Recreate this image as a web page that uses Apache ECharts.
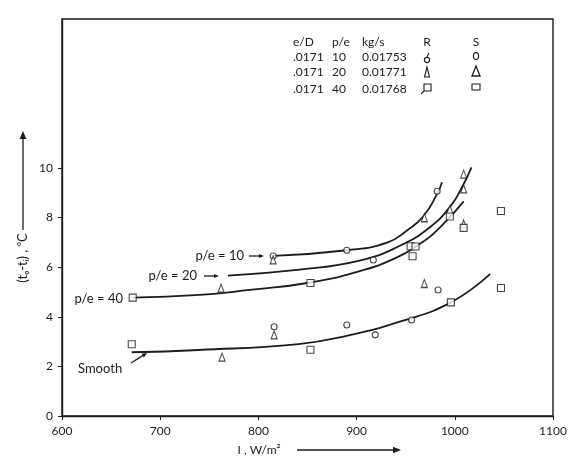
<!DOCTYPE html>
<html>
<head>
<meta charset="utf-8">
<title>t0-ti vs I</title>
<script src="https://cdn.jsdelivr.net/npm/echarts@6/dist/echarts.min.js"></script>
<style>
html, body { margin: 0; padding: 0; background: #fff; }
#chart { width: 574px; height: 458px; }
</style>
</head>
<body>
<div id="chart"></div>
<script>
// tick labels
var xTicks = [600, 700, 800, 900, 1000, 1100];
var yTicks = [0, 2, 4, 6, 8, 10];

// fitted curves [I, to-ti]
var curve10 = [[815, 6.45], [890, 6.68], [931, 6.99], [952, 7.5], [968, 8.05], [982, 8.95], [987, 9.42]];
var curve20 = [[769, 5.66], [842, 5.9], [903, 6.26], [944, 6.86], [975, 7.62], [996, 8.48], [1008, 9.27], [1017, 10.02]];
var curve40 = [[672, 4.77], [740, 4.88], [791, 5.08], [853, 5.38], [903, 5.84], [939, 6.35], [965, 6.95], [985, 7.6], [1009, 8.65]];
var curveSmooth = [[671, 2.57], [739, 2.66], [841, 2.9], [892, 3.25], [943, 3.79], [996, 4.58], [1036, 5.73]];

// measured points, rough duct (R)
var roughCircles = [[815, 6.45], [890, 6.68], [917, 6.29], [982, 9.06]];
var roughTriangles = [[762, 5.15], [815, 6.29], [969, 7.99], [995, 8.32], [1009, 9.75], [1009, 9.15], [1009, 7.74]];
var roughSquares = [[672, 4.77], [853, 5.36], [955, 6.84], [960, 6.83], [957, 6.44], [995, 8.04], [1009, 7.58], [1047, 8.26]];

// measured points, smooth duct (S)
var smoothCircles = [[816, 3.6], [890, 3.67], [919, 3.27], [956, 3.87], [983, 5.08]];
var smoothTriangles = [[763, 2.37], [816, 3.27], [969, 5.34]];
var smoothSquares = [[671, 2.89], [853, 2.67], [996, 4.58], [1047, 5.16]];

// table at top
var tableHead = ['e/D', 'p/e', 'kg/s', 'R', 'S'];
var tableED = ['.0171', '.0171', '.0171'];
var tablePE = ['10', '20', '40'];
var tableFlow = ['0.01753', '0.01771', '0.01768'];

var FONT = 'Lato, "Open Sans", sans-serif';
var INK = '#1c1c1c';

function lineSeries(data) {
    return {
        type: 'line', data: data, smooth: 0.5,
        showSymbol: false, silent: true,
        lineStyle: { color: INK, width: 1.8 }
    };
}

function pointSeries(data, symbol, size) {
    return {
        type: 'scatter', data: data, symbol: symbol, symbolSize: size, z: 5,
        itemStyle: { color: '#fff', borderColor: INK, borderWidth: 1.1 }
    };
}

function txt(s, x, y, size, align) {
    return {
        type: 'text', x: x, y: y, z: 10,
        style: { text: s, fill: INK, font: size + 'px ' + FONT, textAlign: align || 'left', textVerticalAlign: 'middle' }
    };
}

// line with a filled head at (x2, y2)
function arrow(x1, y1, x2, y2, h) {
    var a = Math.atan2(y2 - y1, x2 - x1);
    var bx = x2 - h * Math.cos(a), by = y2 - h * Math.sin(a);
    var w = h * 0.42;
    return [
        { type: 'line', z: 10, shape: { x1: x1, y1: y1, x2: bx, y2: by }, style: { stroke: INK, lineWidth: 1.3 } },
        { type: 'polygon', z: 10, shape: { points: [[x2, y2], [bx - w * Math.sin(a), by + w * Math.cos(a)], [bx + w * Math.sin(a), by - w * Math.cos(a)]] }, style: { fill: INK } }
    ];
}

var graphics = [];

// axis titles
graphics.push({
    type: 'text', x: 23, y: 258, rotation: Math.PI / 2, z: 10,
    style: { text: '(tₒ-tᵢ) , ⁰C', fill: INK, font: '13px ' + FONT, textAlign: 'center', textVerticalAlign: 'middle' }
});
graphics = graphics.concat(arrow(23, 230, 23, 131, 8));
graphics.push(txt('I , W/m²', 259, 450, 12, 'center'));
graphics = graphics.concat(arrow(297, 450, 401, 450, 8));

// curve labels
graphics.push(txt('p/e = 10', 244, 256, 13, 'right'));
graphics = graphics.concat(arrow(249, 256, 264, 256, 5));
graphics.push(txt('p/e = 20', 197, 276, 13, 'right'));
graphics = graphics.concat(arrow(204, 276, 219, 276, 5));
graphics.push(txt('p/e = 40', 123, 299, 13, 'right'));
graphics.push(txt('Smooth', 78, 369, 13, 'left'));
graphics = graphics.concat(arrow(131, 363, 147, 353, 5));

// table
var colX = [293, 332, 362];
var rowY = [57, 72.5, 89];
graphics.push(txt(tableHead[0], colX[0], 42, 12));
graphics.push(txt(tableHead[1], colX[1], 42, 12));
graphics.push(txt(tableHead[2], colX[2], 42, 12));
graphics.push(txt(tableHead[3], 427, 42, 12, 'center'));
graphics.push(txt(tableHead[4], 476, 42, 12, 'center'));
for (var i = 0; i < 3; i++) {
    graphics.push(txt(tableED[i], colX[0], rowY[i], 12));
    graphics.push(txt(tablePE[i], colX[1], rowY[i], 12));
    graphics.push(txt(tableFlow[i], colX[2], rowY[i], 12));
}
var sym = { stroke: INK, lineWidth: 1.1, fill: 'none' };
// R column symbols
graphics.push({ type: 'circle', shape: { cx: 427, cy: 60, r: 2.6 }, style: sym });
graphics.push({ type: 'line', shape: { x1: 427, y1: 57, x2: 429, y2: 53 }, style: sym });
graphics.push({ type: 'polygon', shape: { points: [[427, 67], [424.5, 77], [429.5, 77]] }, style: sym });
graphics.push({ type: 'rect', shape: { x: 424, y: 84, width: 7, height: 7 }, style: sym });
graphics.push({ type: 'line', shape: { x1: 424, y1: 91, x2: 421, y2: 94 }, style: sym });
// S column symbols
graphics.push({ type: 'ellipse', shape: { cx: 476, cy: 56, rx: 2.6, ry: 3.4 }, style: sym });
graphics.push({ type: 'polygon', shape: { points: [[476, 66], [472, 76], [480, 76]] }, style: { stroke: INK, lineWidth: 1.3, fill: 'none' } });
graphics.push({ type: 'rect', shape: { x: 472, y: 84, width: 8, height: 6 }, style: sym });

var option = {
    animation: false,
    backgroundColor: '#fff',
    grid: {
        left: 62, right: 21, top: 19, bottom: 42,
        show: true, borderColor: INK, borderWidth: 1.4, backgroundColor: 'transparent'
    },
    xAxis: {
        type: 'value', min: 600, max: 1100, interval: 100,
        axisLine: { lineStyle: { color: INK, width: 1.4 } },
        axisTick: { length: 4, customValues: xTicks, lineStyle: { color: INK } },
        axisLabel: {
            customValues: xTicks, color: INK, fontSize: 12, fontFamily: FONT, margin: 9,
            formatter: function (v) { return String(v); }
        },
        splitLine: { show: false }
    },
    yAxis: {
        type: 'value', min: 0, max: 16, interval: 2,
        axisLine: { show: true, lineStyle: { color: INK, width: 1.4 } },
        axisTick: { show: true, length: 4, customValues: yTicks, lineStyle: { color: INK } },
        axisLabel: {
            customValues: yTicks, color: INK, fontSize: 12, fontFamily: FONT, margin: 9,
            formatter: function (v) { return String(v); }
        },
        splitLine: { show: false }
    },
    series: [
        lineSeries(curve10),
        lineSeries(curve20),
        lineSeries(curve40),
        lineSeries(curveSmooth),
        pointSeries(roughCircles, 'circle', 6),
        pointSeries(roughTriangles, 'triangle', [6, 8]),
        pointSeries(roughSquares, 'rect', 7),
        pointSeries(smoothCircles, 'circle', 6),
        pointSeries(smoothTriangles, 'triangle', [6, 8]),
        pointSeries(smoothSquares, 'rect', 7)
    ],
    graphic: graphics
};

var chart = echarts.init(document.getElementById('chart'));
chart.setOption(option);
</script>
</body>
</html>
